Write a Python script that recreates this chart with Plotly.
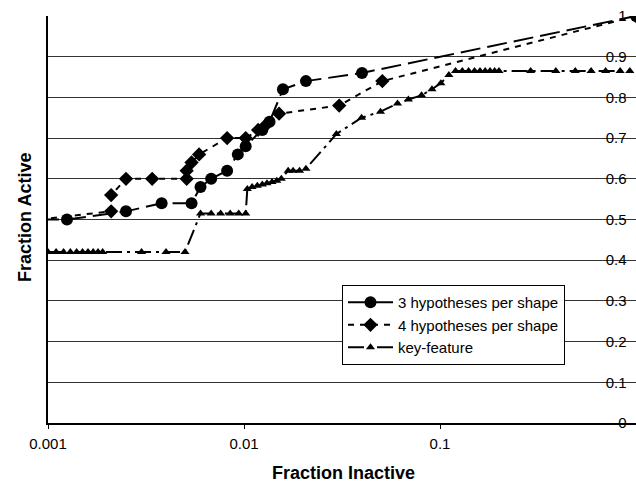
import plotly.graph_objects as go

# ---- data ----
x_3hyp = [0.0009, 0.00125, 0.0025, 0.0038, 0.0054, 0.006, 0.0068, 0.0082, 0.0093, 0.0102,
          0.0124, 0.0135, 0.0158, 0.0207, 0.04, 1.0]
y_3hyp = [0.50, 0.50, 0.52, 0.54, 0.54, 0.58, 0.60, 0.62, 0.66, 0.68,
          0.72, 0.74, 0.82, 0.84, 0.86, 1.0]

x_4hyp = [0.0009, 0.0021, 0.0021, 0.0025, 0.0034, 0.0051, 0.0051, 0.0054, 0.0059, 0.0082,
          0.0102, 0.0118, 0.0128, 0.0151, 0.0306, 0.0508, 1.0]
y_4hyp = [0.50, 0.52, 0.56, 0.60, 0.60, 0.60, 0.62, 0.64, 0.66, 0.70,
          0.70, 0.72, 0.73, 0.76, 0.78, 0.84, 1.0]

x_key = [0.001, 0.0011, 0.0012, 0.0013, 0.0014, 0.0015, 0.0016, 0.0017, 0.0018, 0.0019,
         0.003, 0.004, 0.005,
         0.006, 0.0068, 0.0076, 0.0085, 0.0094, 0.0102,
         0.0104, 0.0110, 0.0117, 0.0124, 0.0131, 0.0139, 0.0147, 0.0155,
         0.0168, 0.0178, 0.0192, 0.0207,
         0.0296, 0.0398, 0.0497, 0.0607, 0.069, 0.0805, 0.091, 0.101, 0.111,
         0.12, 0.13, 0.14, 0.15, 0.16, 0.17, 0.18, 0.19, 0.2,
         0.29, 0.39, 0.49, 0.59, 0.70, 0.83, 0.93]
y_key = [0.42] * 13 + [0.515] * 6 + \
        [0.575, 0.58, 0.583, 0.586, 0.589, 0.592, 0.595, 0.60] + \
        [0.62, 0.62, 0.62, 0.625] + \
        [0.71, 0.75, 0.765, 0.785, 0.795, 0.805, 0.82, 0.835, 0.855] + \
        [0.865] * 9 + [0.865] * 7

x_ticks = [0.001, 0.01, 0.1, 1]
x_tick_labels = ["0.001", "0.01", "0.1", "1"]
y_ticks = [0, 0.1, 0.2, 0.3, 0.4, 0.5, 0.6, 0.7, 0.8, 0.9, 1]
y_tick_labels = ["0", "0.1", "0.2", "0.3", "0.4", "0.5", "0.6", "0.7", "0.8", "0.9", "1"]

FONT = "Liberation Sans, Arial, sans-serif"

fig = go.Figure()
fig.add_trace(go.Scatter(
    x=x_3hyp, y=y_3hyp, mode="lines+markers", name="3 hypotheses per shape",
    line=dict(color="black", width=2, dash="20px,7px"),
    marker=dict(symbol="circle", size=12, color="black"),
))
fig.add_trace(go.Scatter(
    x=x_4hyp, y=y_4hyp, mode="lines+markers", name="4 hypotheses per shape",
    line=dict(color="black", width=2, dash="6px,6px"),
    marker=dict(symbol="diamond", size=11, color="black"),
))
fig.add_trace(go.Scatter(
    x=x_key, y=y_key, mode="lines+markers", name="key-feature", yaxis="y2",
    line=dict(color="black", width=2, dash="16px,5px,3px,5px"),
    marker=dict(symbol="triangle-up", size=8, color="black"),
))

fig.update_layout(
    width=636, height=483,
    margin=dict(l=48, r=0, t=16, b=60, autoexpand=False),
    paper_bgcolor="white", plot_bgcolor="white",
    font=dict(family=FONT, size=15, color="black"),
    showlegend=True,
    legend=dict(
        x=0.5, y=0.339, xanchor="left", yanchor="top",
        bgcolor="white", bordercolor="black", borderwidth=1,
        font=dict(family=FONT, size=15, color="black"),
        tracegroupgap=0, itemwidth=45,
    ),
    xaxis=dict(
        type="log", range=[-3, 0], automargin=False,
        tickvals=x_ticks, ticktext=x_tick_labels,
        showgrid=False, zeroline=False,
        showline=True, linecolor="black", linewidth=2,
        ticks="outside", ticklen=4, tickcolor="black",
        tickfont=dict(size=15, color="black"), ticklabelstandoff=2,
    ),
    yaxis=dict(
        range=[0, 1], side="left", automargin=False,
        tickvals=y_ticks, showticklabels=False,
        showgrid=True, gridcolor="#333333", gridwidth=1,
        zeroline=False,
        showline=True, mirror=True, linecolor="black", linewidth=2,
        ticks="",
    ),
    # same value scale; its tick labels sit just inside the right edge
    yaxis2=dict(
        range=[0, 1], overlaying="y", side="left", anchor="free", position=0.984,
        automargin=False,
        tickvals=y_ticks, ticktext=y_tick_labels,
        showgrid=False, zeroline=False, showline=False, ticks="",
        tickfont=dict(size=15, color="black"),
    ),
    annotations=[
        dict(text="<b>Fraction Active</b>", textangle=-90,
             xref="paper", yref="paper", x=-0.039, y=0.504,
             xanchor="center", yanchor="middle", showarrow=False,
             font=dict(family=FONT, size=18, color="black")),
        dict(text="<b>Fraction Inactive</b>",
             xref="paper", yref="paper", x=0.502, y=-0.123,
             xanchor="center", yanchor="middle", showarrow=False,
             font=dict(family=FONT, size=18, color="black")),
    ],
)

fig.write_html("out.html", config={"displayModeBar": False},
               post_script="document.body.style.margin='0px';")
